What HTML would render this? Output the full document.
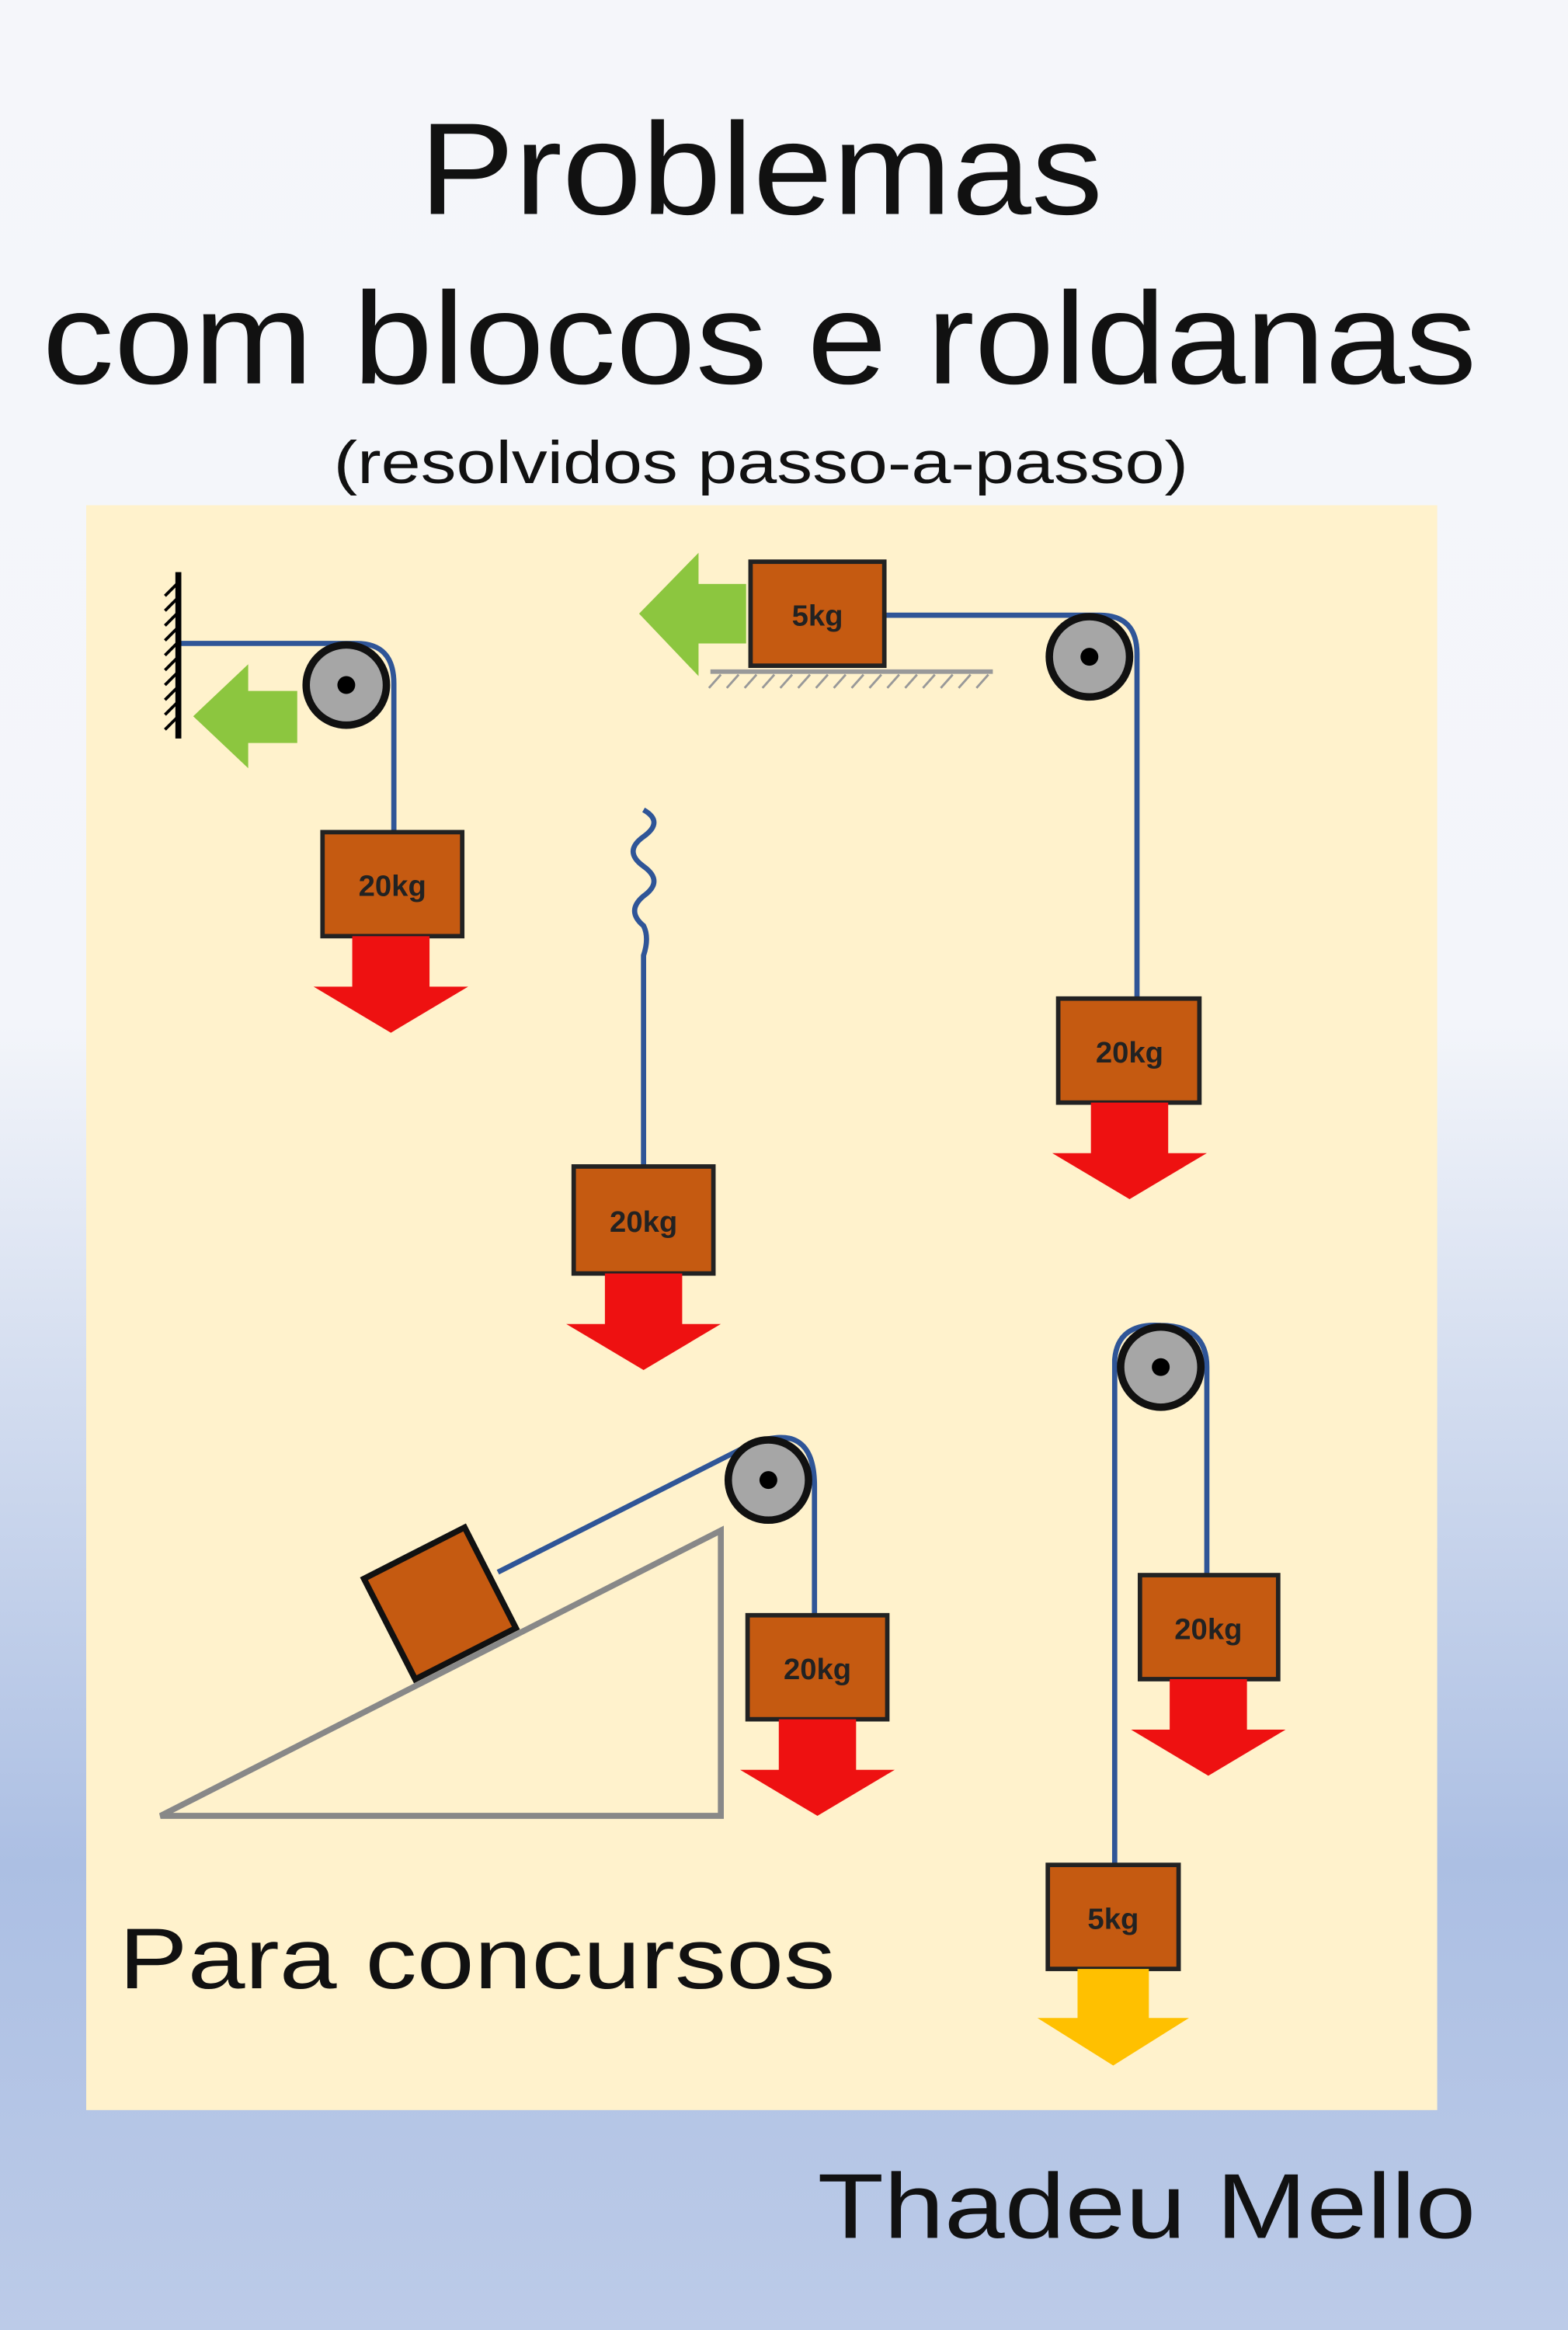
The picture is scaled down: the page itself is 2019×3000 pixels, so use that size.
<!DOCTYPE html>
<html><head><meta charset="utf-8"><style>
html,body{margin:0;padding:0;width:2019px;height:3000px;overflow:hidden}
svg{display:block}
</style></head><body>
<svg width="2019" height="3000" viewBox="0 0 1055 1568" preserveAspectRatio="none" xmlns="http://www.w3.org/2000/svg">
<defs>
<linearGradient id="bg" x1="0" y1="0" x2="0" y2="1">
<stop offset="0" stop-color="#f5f6fa"/>
<stop offset="0.44" stop-color="#f3f5fa"/>
<stop offset="0.6" stop-color="#d2dcef"/>
<stop offset="0.8" stop-color="#acbfe3"/>
<stop offset="1" stop-color="#bccbe8"/>
</linearGradient>
<g id="pul"><circle r="27" fill="#a6a6a6" stroke="#111" stroke-width="5"/><circle r="6" fill="#000"/></g>
<g id="red"><polygon points="-26,0 26,0 26,34 52,34 0,65 -52,34 -26,34" fill="#ee1111"/></g>
</defs>
<rect width="1055" height="1568" fill="url(#bg)"/>
<g font-family="'Liberation Sans', sans-serif" fill="#111">
<text x="512" y="144" font-size="88" text-anchor="middle" textLength="460" lengthAdjust="spacingAndGlyphs">Problemas</text>
<text x="511" y="258" font-size="88" text-anchor="middle" textLength="965" lengthAdjust="spacingAndGlyphs">com blocos e roldanas</text>
<text x="512" y="325" font-size="40" text-anchor="middle" textLength="575" lengthAdjust="spacingAndGlyphs">(resolvidos passo-a-passo)</text>
</g>
<rect x="58" y="340" width="909" height="1080" fill="#fff2cc"/>
<g fill="none" stroke="#2f5597" stroke-width="3.5">
<path d="M120,433 H240 Q265,433 265,460 V560"/>
<path d="M595,414 H740 Q765,414 765,440 V672"/>
<path d="M433,545 q14,8 0,18 q-14,10 0,20 q14,10 0,20 q-12,10 0,20 q4,8 0,20 V785"/>
<path d="M335,1058 L505,972 Q548,955 548,1000 V1087"/>
<path d="M750,1255 V915 Q752,890 781,892 Q812,892 812,920 V1060"/>
</g>
<!-- wall -->
<line x1="120" y1="385" x2="120" y2="497" stroke="#000" stroke-width="4"/>
<g stroke="#000" stroke-width="2">
<path d="M120,392 l-9,9 M120,402 l-9,9 M120,412 l-9,9 M120,422 l-9,9 M120,432 l-9,9 M120,442 l-9,9 M120,452 l-9,9 M120,462 l-9,9 M120,472 l-9,9 M120,482 l-9,9"/>
</g>
<!-- floor -->
<line x1="478" y1="452" x2="668" y2="452" stroke="#999" stroke-width="3"/>
<path d="M485,454 l-8,9 M497,454 l-8,9 M509,454 l-8,9 M521,454 l-8,9 M533,454 l-8,9 M545,454 l-8,9 M557,454 l-8,9 M569,454 l-8,9 M581,454 l-8,9 M593,454 l-8,9 M605,454 l-8,9 M617,454 l-8,9 M629,454 l-8,9 M641,454 l-8,9 M653,454 l-8,9 M665,454 l-8,9" stroke="#999" stroke-width="1.5"/>
<!-- green arrows -->
<polygon points="200,465 167,465 167,447 130,482 167,517 167,500 200,500" fill="#8cc63f"/>
<polygon points="502,393 470,393 470,372 430,413 470,455 470,433 502,433" fill="#8cc63f"/>
<!-- pulleys -->
<use href="#pul" x="233" y="461"/>
<use href="#pul" x="733" y="442"/>
<use href="#pul" x="517" y="996"/>
<use href="#pul" x="781" y="920"/>
<!-- incline -->
<polygon points="108,1222 485,1222 485,1030" fill="none" stroke="#888" stroke-width="4"/>
<rect x="-38" y="-38" width="76" height="76" fill="#c55a11" stroke="#111" stroke-width="4" transform="translate(296,1079) rotate(-27)"/>
<!-- blocks -->
<g fill="#c55a11" stroke="#222" stroke-width="3">
<rect x="217" y="560" width="94" height="70"/>
<rect x="505" y="378" width="90" height="70"/>
<rect x="712" y="672" width="95" height="70"/>
<rect x="386" y="785" width="94" height="72"/>
<rect x="503" y="1087" width="94" height="70"/>
<rect x="767" y="1060" width="93" height="70"/>
<rect x="705" y="1255" width="88" height="70"/>
</g>
<g font-family="'Liberation Sans', sans-serif" font-weight="bold" font-size="20" fill="#222" text-anchor="middle">
<text x="264" y="603">20kg</text>
<text x="550" y="421">5kg</text>
<text x="760" y="715">20kg</text>
<text x="433" y="829">20kg</text>
<text x="550" y="1130">20kg</text>
<text x="813" y="1103">20kg</text>
<text x="749" y="1298">5kg</text>
</g>
<use href="#red" x="263" y="630"/>
<use href="#red" x="760" y="742"/>
<use href="#red" x="433" y="857"/>
<use href="#red" x="550" y="1157"/>
<use href="#red" x="813" y="1130"/>
<polygon points="725,1325 773,1325 773,1358 800,1358 749,1390 698,1358 725,1358" fill="#ffc000"/>
<g font-family="'Liberation Sans', sans-serif" fill="#111">
<text x="80" y="1338" font-size="58" textLength="482" lengthAdjust="spacingAndGlyphs">Para concursos</text>
<text x="993" y="1506" font-size="62" text-anchor="end" textLength="443" lengthAdjust="spacingAndGlyphs">Thadeu Mello</text>
</g>
</svg>
</body></html>
